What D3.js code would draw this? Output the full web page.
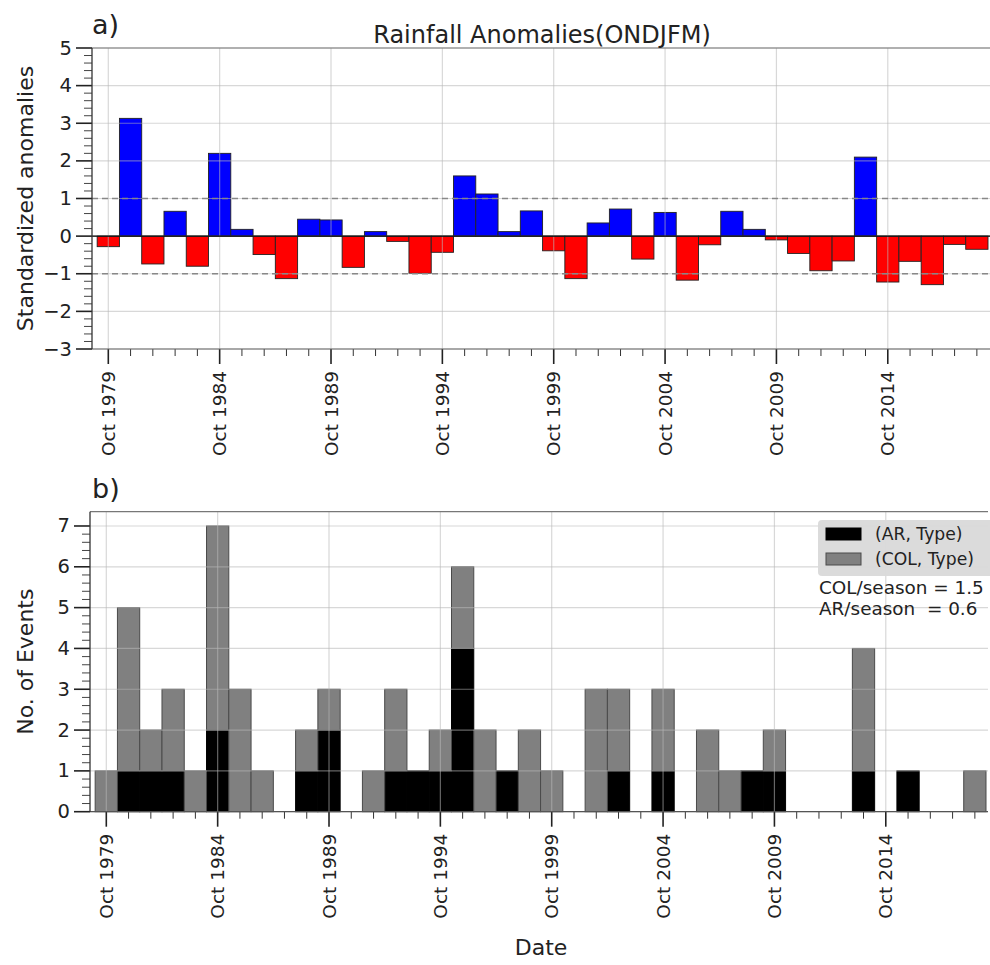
<!DOCTYPE html>
<html>
<head>
<meta charset="utf-8">
<script src="https://cdn.jsdelivr.net/npm/d3@7"></script>
<style>
  body { margin: 0; background: #fff; }
  text { font-family: "DejaVu Sans", sans-serif; fill: #222; }
</style>
</head>
<body>
<div id="plot"></div>
<script>
// seasons (ONDJFM, labelled by October of the start year)
const seasons = [1979, 1980, 1981, 1982, 1983, 1984, 1985, 1986, 1987, 1988,
                 1989, 1990, 1991, 1992, 1993, 1994, 1995, 1996, 1997, 1998,
                 1999, 2000, 2001, 2002, 2003, 2004, 2005, 2006, 2007, 2008,
                 2009, 2010, 2011, 2012, 2013, 2014, 2015, 2016, 2017, 2018];
// standardized rainfall anomalies
const anomalies = [-0.28, 3.13, -0.74, 0.66, -0.80, 2.20, 0.18, -0.49, -1.13, 0.45,
                   0.43, -0.83, 0.12, -0.14, -0.99, -0.43, 1.60, 1.12, 0.12, 0.67,
                   -0.39, -1.13, 0.35, 0.72, -0.61, 0.63, -1.17, -0.23, 0.66, 0.18,
                   -0.10, -0.46, -0.92, -0.66, 2.10, -1.22, -0.67, -1.29, -0.22, -0.35];
// event counts per season
const arEvents  = [0, 1, 1, 1, 0, 2, 0, 0, 0, 1, 2, 0, 0, 1, 1, 1, 4, 0, 1, 0,
                   0, 0, 0, 1, 0, 1, 0, 0, 0, 1, 1, 0, 0, 0, 1, 0, 1, 0, 0, 0];
const colEvents = [1, 4, 1, 2, 1, 5, 3, 1, 0, 1, 1, 0, 1, 2, 0, 1, 2, 2, 0, 2,
                   1, 0, 3, 2, 0, 2, 0, 2, 1, 0, 1, 0, 0, 0, 3, 0, 0, 0, 0, 1];
const majorYears = [1979, 1984, 1989, 1994, 1999, 2004, 2009, 2014];
const anomTicks = [-3, -2, -1, 0, 1, 2, 3, 4, 5];
const countTicks = [0, 1, 2, 3, 4, 5, 6, 7];
const legendLabels = ["(AR, Type)", "(COL, Type)"];
const statLines = ["COL/season = 1.5", "AR/season  = 0.6"];

const width = 990, height = 965;
const svg = d3.select("#plot").append("svg")
    .attr("width", width).attr("height", height)
    .attr("viewBox", `0 0 ${width} ${height}`);

// shared time axis helper
const yearDomain = [1978.268, 2018.59];

function drawXAxis(g, x, y0, top) {
  const minor = seasons.filter(s => !majorYears.includes(s));
  g.selectAll(".xminor").data(minor).join("line")
      .attr("class", "xminor")
      .attr("x1", d => x(d)).attr("x2", d => x(d))
      .attr("y1", y0).attr("y2", y0 + 7)
      .attr("stroke", "#333").attr("stroke-width", 1);
  g.selectAll(".xmajor").data(majorYears).join("line")
      .attr("class", "xmajor")
      .attr("x1", d => x(d)).attr("x2", d => x(d))
      .attr("y1", y0).attr("y2", y0 + 15)
      .attr("stroke", "#222").attr("stroke-width", 1.6);
  g.selectAll(".xlab").data(majorYears).join("text")
      .attr("class", "xlab")
      .attr("transform", d => `translate(${x(d)},${y0 + 22}) rotate(-90)`)
      .attr("text-anchor", "end")
      .attr("dominant-baseline", "central")
      .attr("font-size", 18.5)
      .text(d => "Oct " + d);
  // vertical grid
  g.selectAll(".vgrid").data(majorYears).join("line")
      .attr("class", "vgrid")
      .attr("x1", d => x(d)).attr("x2", d => x(d))
      .attr("y1", top).attr("y2", y0)
      .attr("stroke", "#b8b8b8").attr("stroke-opacity", 0.55).attr("stroke-width", 1.2);
}

function drawYAxis(g, y, left, right, ticks, minorStep) {
  const [lo, hi] = [ticks[0], ticks[ticks.length - 1]];
  const minor = d3.range(lo, hi + 1e-9, minorStep).filter(v => Math.abs(v - Math.round(v)) > 1e-6);
  g.selectAll(".yminor").data(minor).join("line")
      .attr("class", "yminor")
      .attr("x1", left - 8).attr("x2", left)
      .attr("y1", d => y(d)).attr("y2", d => y(d))
      .attr("stroke", "#444").attr("stroke-width", 1);
  g.selectAll(".ymajor").data(ticks).join("line")
      .attr("class", "ymajor")
      .attr("x1", left - 16).attr("x2", left)
      .attr("y1", d => y(d)).attr("y2", d => y(d))
      .attr("stroke", "#222").attr("stroke-width", 1.6);
  g.selectAll(".ylab").data(ticks).join("text")
      .attr("class", "ylab")
      .attr("x", left - 20).attr("y", d => y(d))
      .attr("text-anchor", "end").attr("dominant-baseline", "central")
      .attr("font-size", 19.5)
      .text(d => d3.format("d")(d).replace("-", "\u2212"));
  g.selectAll(".hgrid").data(ticks).join("line")
      .attr("class", "hgrid")
      .attr("x1", left).attr("x2", right)
      .attr("y1", d => y(d)).attr("y2", d => y(d))
      .attr("stroke", "#b8b8b8").attr("stroke-opacity", 0.55).attr("stroke-width", 1.2);
}

/* ---------- a) rainfall anomalies ---------- */
const A = { left: 92, right: 990, top: 48, bottom: 349 };
const xA = d3.scaleLinear().domain(yearDomain).range([A.left, A.right]);
const yA = d3.scaleLinear().domain([-3, 5]).range([A.bottom, A.top]);
const bwA = xA(1) - xA(0);
const gA = svg.append("g");

gA.selectAll(".anom").data(anomalies).join("rect")
    .attr("class", "anom")
    .attr("x", (d, i) => xA(seasons[i]) - bwA / 2)
    .attr("width", bwA)
    .attr("y", d => yA(Math.max(0, d)))
    .attr("height", d => Math.abs(yA(d) - yA(0)))
    .attr("fill", d => d >= 0 ? "#0000ff" : "#ff0000")
    .attr("stroke", "#222").attr("stroke-width", 0.9);

drawYAxis(gA, yA, A.left, A.right, anomTicks, 0.2);
drawXAxis(gA, xA, A.bottom, A.top);

gA.selectAll(".thresh").data([1, -1]).join("line")
    .attr("x1", A.left).attr("x2", A.right)
    .attr("y1", d => yA(d)).attr("y2", d => yA(d))
    .attr("stroke", "#888").attr("stroke-width", 1.6)
    .attr("stroke-dasharray", "6,4");
gA.append("line")
    .attr("x1", A.left).attr("x2", A.right)
    .attr("y1", yA(0)).attr("y2", yA(0))
    .attr("stroke", "#000").attr("stroke-width", 1.3);

// spines
gA.append("line").attr("x1", A.left).attr("x2", A.right).attr("y1", A.top).attr("y2", A.top)
    .attr("stroke", "#777").attr("stroke-width", 1.2);
gA.append("line").attr("x1", A.left).attr("x2", A.right).attr("y1", A.bottom).attr("y2", A.bottom)
    .attr("stroke", "#666").attr("stroke-width", 1.2);
gA.append("line").attr("x1", A.left).attr("x2", A.left).attr("y1", A.top).attr("y2", A.bottom)
    .attr("stroke", "#333").attr("stroke-width", 1.3);

svg.append("text").attr("x", 92).attr("y", 34).attr("font-size", 27).text("a)");
svg.append("text").attr("x", 542).attr("y", 43).attr("text-anchor", "middle")
    .attr("font-size", 24).text("Rainfall Anomalies(ONDJFM)");
svg.append("text")
    .attr("transform", `translate(25,${(A.top + A.bottom) / 2}) rotate(-90)`)
    .attr("text-anchor", "middle").attr("dominant-baseline", "central")
    .attr("font-size", 22).text("Standardized anomalies");

/* ---------- b) number of events ---------- */
const B = { left: 90, right: 988, top: 511.7, bottom: 811.7 };
const xB = d3.scaleLinear().domain(yearDomain).range([B.left, B.right]);
const yB = d3.scaleLinear().domain([0, 7.35]).range([B.bottom, B.top]);
const bwB = xB(1) - xB(0);
const gB = svg.append("g");

const rows = seasons.map((s, i) => ({ season: s, AR: arEvents[i], COL: colEvents[i] }));
const stacked = d3.stack().keys(["AR", "COL"])(rows);
const fills = { AR: "#000000", COL: "#808080" };
const edges = { AR: "#000000", COL: "#4a4a4a" };

gB.selectAll(".series").data(stacked).join("g")
    .attr("class", "series")
    .each(function (layer) {
      d3.select(this).selectAll("rect")
        .data(layer.filter(d => d[1] - d[0] > 0))
        .join("rect")
        .attr("x", d => xB(d.data.season) - bwB / 2)
        .attr("width", bwB)
        .attr("y", d => yB(d[1]))
        .attr("height", d => yB(d[0]) - yB(d[1]))
        .attr("fill", fills[layer.key])
        .attr("stroke", edges[layer.key]).attr("stroke-width", 1);
    });

drawYAxis(gB, yB, B.left, B.right, countTicks, 0.2);
drawXAxis(gB, xB, B.bottom, B.top);

gB.append("line").attr("x1", B.left).attr("x2", B.right).attr("y1", B.top).attr("y2", B.top)
    .attr("stroke", "#777").attr("stroke-width", 1.2);
gB.append("line").attr("x1", B.left).attr("x2", B.right).attr("y1", B.bottom).attr("y2", B.bottom)
    .attr("stroke", "#555").attr("stroke-width", 1.3);
gB.append("line").attr("x1", B.left).attr("x2", B.left).attr("y1", B.top).attr("y2", B.bottom)
    .attr("stroke", "#333").attr("stroke-width", 1.3);

// legend
const leg = gB.append("g").attr("transform", "translate(818,520)");
leg.append("rect").attr("width", 175).attr("height", 56).attr("rx", 4)
    .attr("fill", "#d9d9d9").attr("fill-opacity", 0.95);
leg.selectAll(".lp").data(legendLabels).join("rect")
    .attr("class", "lp")
    .attr("x", 8).attr("y", (d, i) => 8 + i * 25)
    .attr("width", 35).attr("height", 12)
    .attr("fill", (d, i) => i === 0 ? fills.AR : fills.COL)
    .attr("stroke", (d, i) => i === 0 ? edges.AR : edges.COL).attr("stroke-width", 1);
leg.selectAll(".lt").data(legendLabels).join("text")
    .attr("class", "lt")
    .attr("x", 57).attr("y", (d, i) => 20 + i * 25)
    .attr("font-size", 17.2).text(d => d);

gB.selectAll(".stat").data(statLines).join("text")
    .attr("class", "stat")
    .attr("x", 819).attr("y", (d, i) => 594 + i * 21)
    .attr("font-size", 18.4).attr("xml:space", "preserve")
    .style("white-space", "pre")
    .text(d => d);

svg.append("text").attr("x", 92).attr("y", 498).attr("font-size", 27).text("b)");
svg.append("text")
    .attr("transform", `translate(25,${(B.top + B.bottom) / 2}) rotate(-90)`)
    .attr("text-anchor", "middle").attr("dominant-baseline", "central")
    .attr("font-size", 22).text("No. of Events");
svg.append("text").attr("x", 541).attr("y", 955).attr("text-anchor", "middle")
    .attr("font-size", 22).text("Date");
</script>
</body>
</html>
